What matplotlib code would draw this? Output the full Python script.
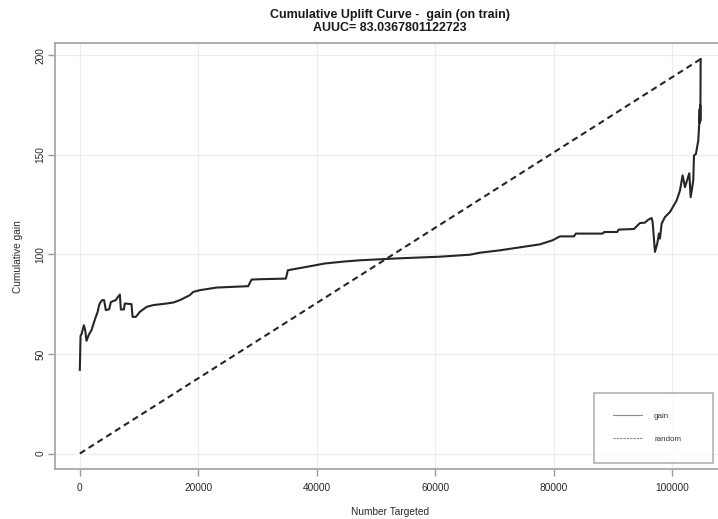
import matplotlib
matplotlib.use("Agg")
import matplotlib.pyplot as plt
from matplotlib.lines import Line2D

# ---- data ----
gain_x = [0, 120, 300, 676, 900, 1130, 1500, 1976, 2350, 2700, 3000, 3260, 3500, 3770,
          4100, 4390, 4950, 5240, 5600, 6080, 6400, 6760, 6930, 7430, 7600, 8730, 8900,
          9460, 10135, 11270, 12380, 14650, 15800, 16900, 18580, 19140, 20270, 23090,
          28430, 29000, 30400, 34800, 35130, 38850, 41390, 44760, 47300, 54050, 60800,
          65880, 67570, 70950, 74320, 77700, 79800, 81080, 83450, 83780, 88290, 88570,
          90760, 91000, 93580, 94600, 95440, 96000, 96570, 96740, 97130, 97520, 97800,
          97970, 98260, 98820, 99660, 100790, 101070, 101350, 101800, 102200, 102930,
          103160, 103600, 103720, 104050, 104440, 104610, 104680, 104720, 104760, 104800,
          104850]
gain_y = [42, 59, 60, 64.4, 62, 56.6, 59.5, 62, 65.5, 68.6, 71, 74.5, 76, 77,
          77, 72, 72.4, 76, 76.5, 77, 78.5, 79.8, 72.3, 72.3, 75.3, 75, 68.6,
          68.6, 71.1, 73.6, 74.5, 75.3, 75.8, 77, 79.5, 81.1, 82, 83.3,
          84, 87.3, 87.5, 87.8, 92, 94, 95.4, 96.4, 97, 98, 98.8,
          99.8, 100.8, 102, 103.5, 105, 107, 109, 109, 110.4, 110.4, 111.2,
          111.2, 112.4, 112.7, 115.7, 115.9, 117.4, 118.2, 116.2, 101.2, 105.4, 110.4,
          107.9, 115.4, 118.7, 121.2, 127, 129.5, 132, 139.6, 133.7, 140.7,
          128.7, 137, 149.6, 150.4, 157, 165.4, 173, 166, 175, 167,
          198]
random_x = [0, 104850]
random_y = [0, 198]
x_ticks = [0, 20000, 40000, 60000, 80000, 100000]
y_ticks = [0, 50, 100, 150, 200]
title_text = "Cumulative Uplift Curve -  gain (on train)\nAUUC= 83.0367801122723"
x_label = "Number Targeted"
y_label = "Cumulative gain"
legend_labels = ["gain", "random"]

plt.rcParams['font.family'] = ['Liberation Sans', 'DejaVu Sans']

W, H = 718, 519
fig = plt.figure(figsize=(W / 100, H / 100), dpi=100)
ax_left, ax_right, ax_top, ax_bottom = 55, 725.5, 43.3, 469.3
ax = fig.add_axes([ax_left / W, 1 - ax_bottom / H, (ax_right - ax_left) / W, (ax_bottom - ax_top) / H])

xmax = max(gain_x)
ax.set_xlim(-0.04 * xmax, xmax * 1.04)
ymin, ymax = 0, max(gain_y)
ax.set_ylim(ymin - 0.04 * (ymax - ymin), ymax + 0.04 * (ymax - ymin))

ax.grid(True, color='#ececec', linewidth=0.8)
ax.set_axisbelow(True)

ax.plot(gain_x, gain_y, color='#262626', linewidth=1.5, solid_joinstyle='round')
ax.plot(random_x, random_y, color='#262626', linewidth=1.5, linestyle=(0, (3, 2)))

ax.set_xticks(x_ticks)
ax.set_xticklabels([str(t) for t in x_ticks])
ax.set_yticks(y_ticks)
ax.set_yticklabels([str(t) for t in y_ticks], rotation=90, va='center')
ax.tick_params(axis='both', direction='out', length=5, width=1.0, color='#999999',
               labelsize=7.3, labelcolor='#2a2a2a')
ax.tick_params(axis='x', pad=5)
ax.tick_params(axis='y', pad=2)

for s in ax.spines.values():
    s.set_color('#a8a8a8')
    s.set_linewidth(1.3)

ax.set_xlabel(x_label, fontsize=7.3, color='#2a2a2a', labelpad=10)
ax.set_ylabel(y_label, fontsize=7.3, color='#2a2a2a', labelpad=9)
ax.set_title(title_text, fontsize=9, fontweight='bold', color='#1a1a1a', pad=9, linespacing=1.1)

handles = [Line2D([], [], color='#8a8a8a', linewidth=0.8),
           Line2D([], [], color='#8a8a8a', linewidth=0.8, linestyle=(0, (2, 1)))]
leg = ax.legend(handles, legend_labels, loc='upper left',
                bbox_to_anchor=(594 / W, 1 - 460.7 / H, 118.7 / W, 67.4 / H),
                bbox_transform=fig.transFigure, mode='expand',
                fontsize=5.8, frameon=True, fancybox=False, handlelength=3.6,
                handletextpad=1.45, labelspacing=1.9, borderpad=2.4, borderaxespad=0)
leg.get_frame().set_edgecolor('#a0a0a0')
leg.get_frame().set_linewidth(1.2)
for t in leg.get_texts():
    t.set_color('#333333')

fig.savefig('out.png', dpi=100)
